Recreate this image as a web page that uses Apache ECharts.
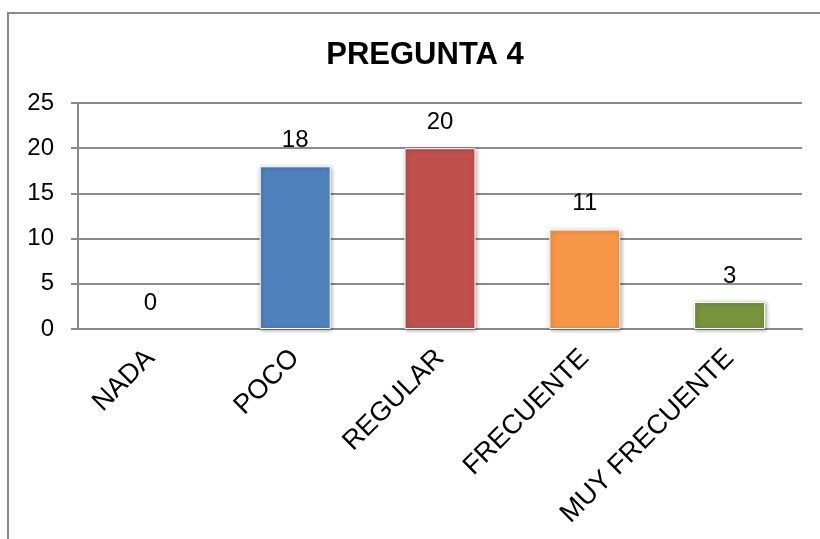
<!DOCTYPE html>
<html>
<head>
<meta charset="utf-8">
<script src="https://cdn.jsdelivr.net/npm/echarts@6/dist/echarts.min.js"></script>
<style>
  html, body { margin: 0; padding: 0; background: #fff; }
  #chart { width: 820px; height: 539px; }
</style>
</head>
<body>
<div id="chart"></div>
<script>
const categories = ['NADA', 'POCO', 'REGULAR', 'FRECUENTE', 'MUY FRECUENTE'];
const values = [0, 18, 20, 11, 3];
const barColors = ['#4F81BD', '#4F81BD', '#C0504D', '#F79646', '#77933C'];
const yTicks = [0, 5, 10, 15, 20, 25];

const font = '"Liberation Sans", Arial, sans-serif';

const option = {
  backgroundColor: '#fff',
  animation: false,
  title: {
    text: 'PREGUNTA 4',
    left: 420,
    top: 35,
    textAlign: 'center',
    textStyle: { fontFamily: font, fontSize: 31, fontWeight: 'bold', color: '#000' },
  },
  graphic: [
    {
      type: 'rect',
      shape: { x: 8, y: 13, width: 900, height: 600 },
      style: { fill: 'none', stroke: '#8a8a8a', lineWidth: 2 },
      silent: true,
    },
  ],
  grid: { left: 78, right: 18, top: 103, bottom: 210 },
  xAxis: {
    type: 'category',
    data: categories,
    axisLine: { lineStyle: { color: '#8a8a8a', width: 2 } },
    axisTick: { length: 6, lineStyle: { color: '#8a8a8a', width: 2 } },
    axisLabel: {
      rotate: 45,
      margin: 25,
      interval: 0,
      fontFamily: font,
      fontSize: 27,
      color: '#000',
    },
  },
  yAxis: {
    type: 'value',
    min: yTicks[0],
    max: yTicks[yTicks.length - 1],
    interval: 5,
    axisLine: { show: true, lineStyle: { color: '#8a8a8a', width: 2 } },
    axisTick: { show: true, length: 7, lineStyle: { color: '#8a8a8a', width: 2 } },
    axisLabel: { margin: 24, fontFamily: font, fontSize: 24, color: '#000' },
    splitLine: { lineStyle: { color: '#8a8a8a', width: 2 } },
  },
  series: [
    {
      type: 'bar',
      barWidth: '49%',
      data: values.map((v, i) => ({
        value: v,
        itemStyle: v === 0
          ? { color: 'transparent', borderWidth: 0, shadowBlur: 0, shadowColor: 'transparent' }
          : { color: barColors[i] },
      })),
      itemStyle: {
        borderColor: '#fff',
        borderWidth: 1,
        shadowBlur: 4,
        shadowOffsetX: 1,
        shadowOffsetY: 1,
        shadowColor: 'rgba(0,0,0,0.35)',
      },
      label: {
        show: true,
        position: 'top',
        distance: 14,
        fontFamily: font,
        fontSize: 24,
        color: '#000',
      },
    },
  ],
};

const myChart = echarts.init(document.getElementById('chart'));
myChart.setOption(option);
</script>
</body>
</html>
